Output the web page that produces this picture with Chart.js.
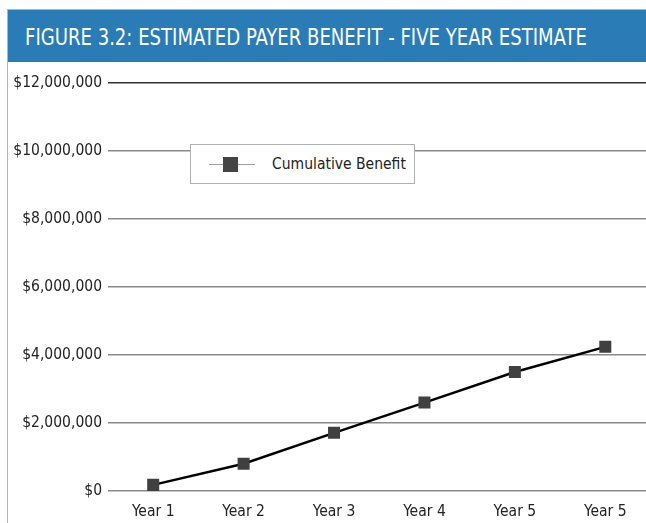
<!DOCTYPE html>
<html>
<head>
<meta charset="utf-8">
<title>Estimated Payer Benefit</title>
<script src="https://cdn.jsdelivr.net/npm/chart.js@4"></script>
<style>
    html, body {
        margin: 0;
        padding: 0;
        width: 646px;
        height: 523px;
        overflow: hidden;
        background: #ffffff;
        font-family: "DejaVu Sans Condensed", "DejaVu Sans", sans-serif;
    }
    #frame {
        position: absolute;
        left: 7px;
        top: 9px;
        width: 700px;
        height: 600px;
        border-left: 1px solid #b5b5b5;
        border-top: 1px solid #b5b5b5;
    }
    #header {
        position: absolute;
        left: 8px;
        top: 10px;
        width: 638px;
        height: 52px;
        background: #2a7cb6;
        overflow: hidden;
    }
    #header span {
        position: absolute;
        left: 17px;
        top: 0;
        color: #ffffff;
        font-size: 23px;
        line-height: 54px;
        white-space: nowrap;
        transform: scaleX(0.873);
        transform-origin: left center;
    }
    #chart-wrap {
        position: absolute;
        left: 8px;
        top: 62px;
        width: 651px;
        height: 461px;
    }
    #legend {
        position: absolute;
        left: 190px;
        top: 144px;
        width: 225px;
        height: 40px;
        box-sizing: border-box;
        border: 1px solid #b0b0b0;
        background: #ffffff;
        font-size: 15.5px;
        color: #222222;
        white-space: nowrap;
    }
    #legend .line {
        position: absolute;
        left: 18px;
        top: 19px;
        width: 46px;
        height: 1px;
        background: #a0a0a0;
    }
    #legend .box {
        position: absolute;
        left: 32px;
        top: 12px;
        width: 15px;
        height: 15px;
        background: #444444;
    }
    #legend .label {
        position: absolute;
        left: 81px;
        top: 9px;
        line-height: 20px;
    }
</style>
</head>
<body>
<div id="frame"></div>
<div id="header"><span>FIGURE 3.2: ESTIMATED PAYER BENEFIT - FIVE YEAR ESTIMATE</span></div>
<div id="chart-wrap"><canvas id="benefit-chart" width="651" height="461"></canvas></div>
<div id="legend">
    <span class="line"></span><span class="box"></span>
    <span class="label" id="legend-label"></span>
</div>

<script>
// Chart data
const yearLabels = ['Year 1', 'Year 2', 'Year 3', 'Year 4', 'Year 5', 'Year 5'];
const seriesName = 'Cumulative Benefit';
const cumulativeBenefit = [180000, 800000, 1710000, 2600000, 3500000, 4240000];
const yTickValues = [0, 2000000, 4000000, 6000000, 8000000, 10000000, 12000000];

const fontFamily = '"DejaVu Sans Condensed", "DejaVu Sans", sans-serif';

document.getElementById('legend-label').textContent = seriesName;

// Format tick as currency, e.g. $2,000,000
function formatMoney(value) {
    return '$' + Number(value).toLocaleString('en-US');
}

const chartCanvas = document.getElementById('benefit-chart');

new Chart(chartCanvas, {
    type: 'line',
    data: {
        labels: yearLabels,
        datasets: [{
            label: seriesName,
            data: cumulativeBenefit,
            borderColor: '#000000',
            borderWidth: 2.5,
            pointStyle: 'rect',
            pointRadius: 8.5,
            pointBackgroundColor: '#404040',
            pointBorderColor: '#404040',
            pointBorderWidth: 0,
            tension: 0
        }]
    },
    options: {
        responsive: false,
        animation: false,
        layout: {
            padding: { top: 21, right: 0, bottom: 0, left: 0 }
        },
        plugins: {
            legend: { display: false },
            tooltip: { enabled: false }
        },
        scales: {
            x: {
                offset: true,
                grid: { display: false },
                border: { display: false },
                ticks: {
                    color: '#222222',
                    font: { family: fontFamily, size: 15.5 },
                    padding: 4,
                    maxRotation: 0
                },
                afterFit: function(scale) {
                    // labels sit inside their category, no side padding needed
                    scale.height = 32;
                    scale.paddingLeft = 0;
                    scale.paddingRight = 0;
                }
            },
            y: {
                min: 0,
                max: 12000000,
                afterBuildTicks: function(scale) {
                    scale.ticks = yTickValues.map(v => ({ value: v }));
                },
                grid: {
                    color: function(context) {
                        return context.tick && context.tick.value === 12000000 ? '#333333' : '#8a8a8a';
                    },
                    lineWidth: 1.5,
                    drawTicks: false
                },
                border: { display: false },
                ticks: {
                    color: '#222222',
                    font: { family: fontFamily, size: 15.5 },
                    padding: 6,
                    callback: function(value) {
                        return formatMoney(value);
                    }
                },
                afterFit: function(scale) {
                    scale.width = 100;
                }
            }
        }
    }
});
</script>
</body>
</html>
